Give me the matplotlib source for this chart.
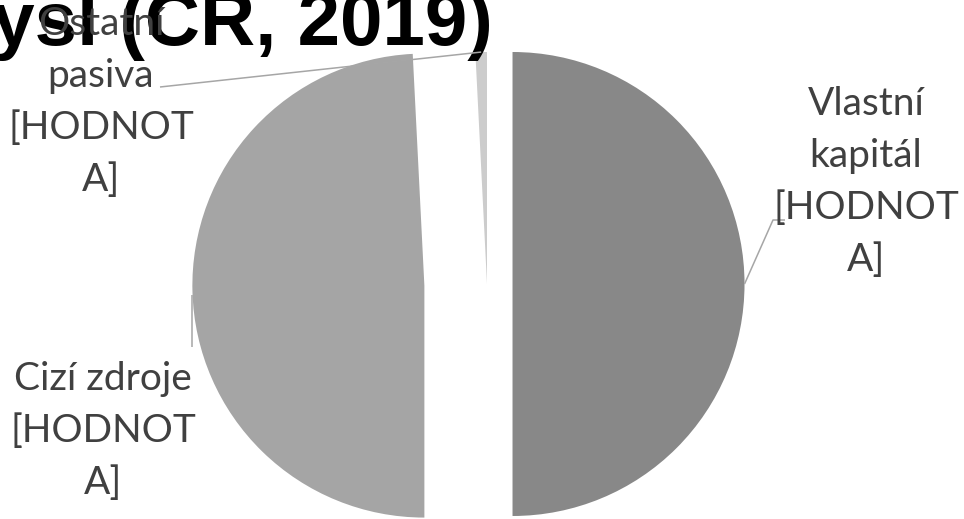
import matplotlib
matplotlib.use("Agg")
import matplotlib.pyplot as plt
import numpy as np

# Liability structure, shares of total (%)
categories = ["Vlastní kapitál", "Cizí zdroje", "Ostatní pasiva"]
shares = [50.0, 49.2, 0.8]
# data labels as they appear (value field left unfilled), wrapped
labels = ["Vlastní\nkapitál\n[HODNOT\nA]",
          "Cizí zdroje\n[HODNOT\nA]",
          "Ostatní\npasiva\n[HODNOT\nA]"]
colors = ["#888888", "#a5a5a5", "#cccccc"]
explode = [0.11, 0.27, 0.0]
title = "Struktura pasiv – zpracovatelský průmysl (ČR, 2019)"

W, H = 964, 519
R = 232.0            # pie radius in pixels
CX, CY = 487, 284    # pie centre in pixels (from top-left)


def px(x, y):
    """pixel position -> data coords (pie radius = 1)"""
    return (x - CX) / R, (CY - y) / R


fig = plt.figure(figsize=(W / 100, H / 100), dpi=100, facecolor="white")
ax = fig.add_axes([0, 0, 1, 1])

wedges, _ = ax.pie(shares, colors=colors, explode=explode, startangle=90,
                   counterclock=False, radius=1, center=(0, 0),
                   wedgeprops=dict(linewidth=0))
ax.set_xlim(-CX / R, (W - CX) / R)
ax.set_ylim(-(H - CY) / R, CY / R)
ax.set_aspect("auto")
ax.axis("off")


def edge_point(w):
    mid = np.deg2rad(0.5 * (w.theta1 + w.theta2))
    return w.center[0] + w.r * np.cos(mid), w.center[1] + w.r * np.sin(mid)


label_kw = dict(ha="center", va="center", multialignment="center",
                fontsize=28, family="Lato", color="#404040",
                linespacing=1.55, zorder=5)
line_kw = dict(color="#a6a6a6", lw=1.1, zorder=4, solid_capstyle="butt")

# Vlastní kapitál – label on the right, elbow leader
x0, y0 = edge_point(wedges[0])
ex, ey = px(773, 220)
hx, _ = px(785, 220)
ax.plot([x0, ex, hx], [y0, ey, ey], **line_kw)
ax.text(*px(866, 182), labels[0], **label_kw)

# Cizí zdroje – label bottom left, short vertical leader
x1, y1 = edge_point(wedges[1])
_, ly = px(0, 347)
ax.plot([x1 - 0.004, x1 - 0.004], [y1 - 0.015, ly], **line_kw)
ax.text(*px(103, 431), labels[1], **label_kw)

# Ostatní pasiva – label top left, long leader to the thin slice
x2, y2 = edge_point(wedges[2])
lx, ly = px(160, 87)
ax.plot([x2, lx], [y2, ly], **line_kw)
ax.text(*px(101, 102), labels[2], **label_kw)

# chart title (runs off the top/left edge)
ax.text(493 / W, 1 - 45 / H, title, transform=fig.transFigure,
        ha="right", va="baseline", fontsize=55, fontweight="bold",
        family="Liberation Sans", color="black", zorder=1)

fig.savefig("out.png", dpi=100, facecolor="white")
